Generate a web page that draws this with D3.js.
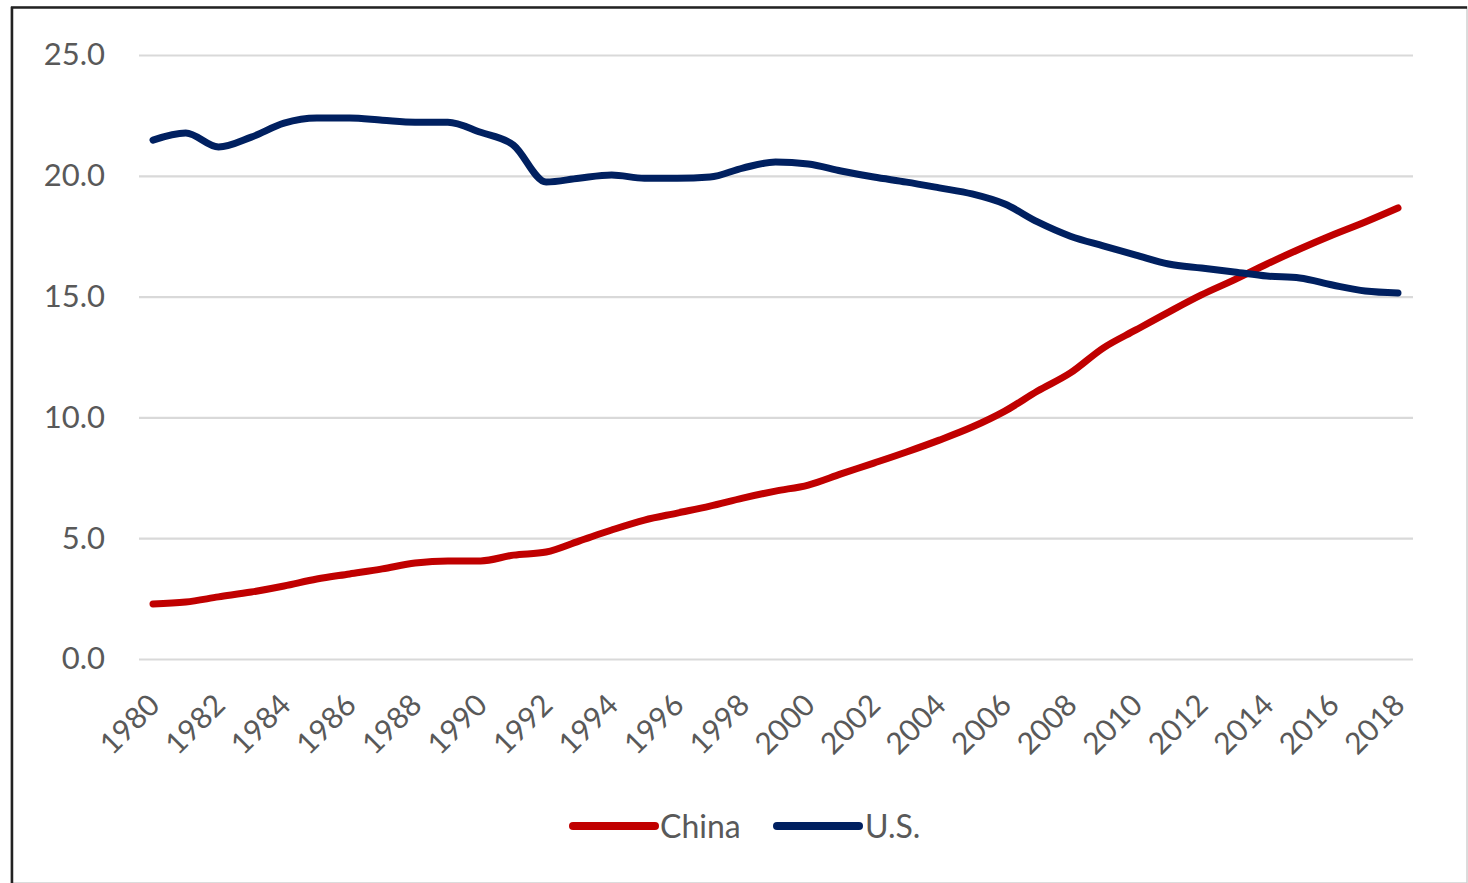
<!DOCTYPE html>
<html>
<head>
<meta charset="utf-8">
<script src="https://cdn.jsdelivr.net/npm/d3@7"></script>
<style>
  html, body { margin: 0; padding: 0; background: #fff; }
  svg { display: block; }
</style>
</head>
<body>
<svg id="chart" width="1468" height="883"></svg>
<script>
const years = d3.range(1980, 2019);
const chinaValues = [2.28, 2.36, 2.57, 2.77, 3.02, 3.31, 3.52, 3.73, 3.97, 4.06,
  4.06, 4.30, 4.43, 4.88, 5.34, 5.75, 6.04, 6.33, 6.66, 6.95,
  7.20, 7.66, 8.11, 8.57, 9.06, 9.60, 10.26, 11.09, 11.84, 12.87,
  13.62, 14.36, 15.07, 15.69, 16.35, 16.97, 17.55, 18.09, 18.67];
const usValues = [21.48, 21.77, 21.19, 21.60, 22.18, 22.39, 22.39, 22.30, 22.22, 22.22,
  21.80, 21.27, 19.74, 19.90, 20.03, 19.90, 19.90, 19.95, 20.32, 20.57,
  20.49, 20.20, 19.95, 19.74, 19.50, 19.25, 18.83, 18.09, 17.50, 17.10,
  16.72, 16.35, 16.18, 16.02, 15.85, 15.77, 15.48, 15.23, 15.15];
const yTicks = [0, 5, 10, 15, 20, 25];
const xTickYears = d3.range(1980, 2019, 2);
const seriesNames = ["China", "U.S."];
const seriesColors = ["#C00000", "#002060"];

const svg = d3.select("#chart");
const font = "Lato, 'Open Sans', sans-serif";

// frame
svg.append("rect").attr("x", 11).attr("y", 7).attr("width", 1456).attr("height", 876)
  .attr("fill", "#fff").attr("stroke", "#d0d0d0").attr("stroke-width", 1.5);
svg.append("line").attr("x1", 11).attr("x2", 1467).attr("y1", 7.5).attr("y2", 7.5)
  .attr("stroke", "#222").attr("stroke-width", 2.5);
svg.append("line").attr("x1", 12).attr("x2", 12).attr("y1", 7).attr("y2", 883)
  .attr("stroke", "#222").attr("stroke-width", 2.5);

const x = d3.scaleLinear().domain([1980, 2018]).range([153, 1398]);
const y = d3.scaleLinear().domain([0, 25]).range([659, 55]);
const gridX0 = 139, gridX1 = 1413;

// gridlines + y labels via axis
const yAxis = d3.axisLeft(y).tickValues(yTicks).tickFormat(d3.format(".1f"))
  .tickSize(-(gridX1 - gridX0)).tickPadding(34);
const gy = svg.append("g").attr("transform", `translate(${gridX0},0)`).call(yAxis);
gy.select(".domain").remove();
gy.selectAll(".tick line").attr("stroke", "#d9d9d9").attr("stroke-width", 2.2);
gy.selectAll(".tick text").attr("fill", "#595959").attr("font-size", 31)
  .attr("font-family", font);

// x labels via axis
const xAxis = d3.axisBottom(x).tickValues(xTickYears).tickFormat(d3.format("d")).tickSize(0);
const gx = svg.append("g").attr("transform", `translate(0,${y(0)})`).call(xAxis);
gx.select(".domain").remove();
gx.selectAll(".tick text")
  .attr("fill", "#595959").attr("font-size", 30).attr("font-family", font)
  .attr("text-anchor", "end").attr("dy", 0).attr("y", 0)
  .attr("transform", "translate(8,48) rotate(-45)");

// lines
const line = d3.line().x((d, i) => x(years[i])).y(d => y(d)).curve(d3.curveMonotoneX);
[chinaValues, usValues].forEach((vals, k) => {
  svg.append("path").datum(vals).attr("d", line)
    .attr("fill", "none").attr("stroke", seriesColors[k]).attr("stroke-width", 7)
    .attr("stroke-linecap", "round").attr("stroke-linejoin", "round");
});

// legend
const legendItems = [{x: 573, tx: 660}, {x: 777, tx: 865}];
seriesNames.forEach((name, k) => {
  const li = legendItems[k];
  svg.append("line").attr("x1", li.x).attr("x2", li.x + 82).attr("y1", 826).attr("y2", 826)
    .attr("stroke", seriesColors[k]).attr("stroke-width", 8).attr("stroke-linecap", "round");
  svg.append("text").attr("x", li.tx).attr("y", 838).text(name)
    .attr("fill", "#595959").attr("font-size", 32).attr("font-family", font);
});
</script>
</body>
</html>
